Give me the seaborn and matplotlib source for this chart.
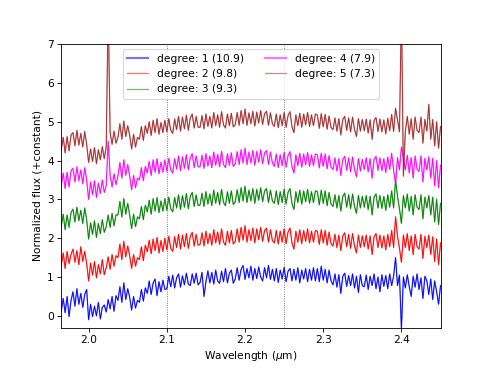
import numpy as np
import pandas as pd
import matplotlib
matplotlib.use("Agg")
import matplotlib.pyplot as plt
import seaborn as sns

# ---- data ----
degrees = [1, 2, 3, 4, 5]
snr = [10.9, 9.8, 9.3, 7.9, 7.3]
colors = ["blue", "red", "green", "magenta", "brown"]
dotted_wavelengths = [2.10, 2.25]

flux_deg1 = [0.12, 0.45, 0.08, 0.50, -0.02, 0.40,
             0.62, 0.25, 0.70, 0.30, 0.58, 0.22, 0.55, 0.68,
             -0.10,
             0.30, -0.02, 0.25, 0.00, 0.35, -0.08, 0.22, 0.28,
             0.10, 0.42, 0.18, 0.50, 0.12, 0.52,
             0.40, 0.75, 0.35, 0.85, 0.42, 0.70,
             0.48, 0.15, 0.50, 0.20, 0.40,
             0.35, 0.68, 0.38, 0.72,
             0.58, 0.90, 0.55, 0.85, 0.95, 0.52, 0.88, 0.62, 0.92, 0.68,
             0.70, 1.02, 0.75, 1.05, 0.72, 0.98, 1.08, 0.74, 1.03, 0.80, 1.10, 0.82, 0.78, 1.08, 0.84, 1.10, 0.80,
             0.86, 1.12, 0.50, 0.88, 1.16, 0.85, 1.12, 0.82, 1.18, 0.90, 0.84, 1.15, 0.88, 1.22, 0.85, 1.10, 1.18, 0.84,
             0.95, 1.24, 0.92, 1.20, 1.30, 0.94, 1.22, 0.98, 1.28, 0.92, 1.22, 0.96, 1.26, 1.00, 0.90, 1.24, 0.98, 1.30, 0.94, 1.20,
             0.90, 1.22, 0.86, 1.18, 0.95, 1.25, 0.88, 1.15, 1.22, 0.90, 1.20, 0.92, 1.24, 0.85, 1.18, 0.95, 1.22, 0.88, 1.20, 0.92, 1.24, 0.90,
             1.22, 0.88, 1.28, 0.92, 1.20, 0.85, 1.18, 0.90,
             0.80, 1.08, 0.74, 1.06, 0.58, 1.02, 1.10, 0.76, 1.04, 0.78, 1.08, 0.72, 1.02, 0.60, 1.06, 0.78,
             0.75, 1.05, 0.68, 1.02, 0.78, 1.08, 0.70, 1.00, 0.62, 1.06, 0.76, 1.04, 0.70, 1.08, 0.78, 1.02,
             1.50,
             0.78, 1.05,
             -0.35,
             1.00, 0.72, 1.06, 0.75, 0.50, 1.02, 0.74, 1.08, 0.68, 0.98, 0.45, 1.02,
             0.90, 0.55, 0.95, 0.42, 0.90, 0.62, 0.30, 0.78]

flux_deg2 = [1.30, 1.62, 1.22, 1.66, 1.35, 1.58,
             1.72, 1.38, 1.68, 1.32, 1.78, 1.40, 1.66, 1.35,
             0.90,
             1.36, 1.05, 1.40, 0.98, 1.32, 1.08, 1.45, 1.06,
             1.24, 1.52, 1.20, 1.58, 1.28, 1.55,
             1.50, 1.85, 1.45, 1.92, 1.52, 1.80,
             1.55, 1.22, 1.58, 1.28, 1.50,
             1.45, 1.78, 1.42, 1.82,
             1.65, 1.95, 1.60, 1.98, 1.68, 2.02, 1.62, 1.94, 1.66, 2.00,
             1.70, 2.05, 1.74, 1.66, 2.04, 1.76, 2.10, 1.72, 2.08, 1.78, 2.12, 1.74, 2.05, 2.15, 1.80, 2.10, 1.82,
             1.84, 2.14, 1.80, 2.18, 1.86, 2.12, 1.82, 2.22, 1.88, 2.16, 1.84, 2.24, 1.90, 1.82, 2.18, 1.88, 2.20, 1.85,
             1.92, 2.24, 1.90, 2.28, 1.95, 2.32, 1.90, 2.22, 1.94, 2.26, 1.88, 2.24, 1.96, 2.28, 1.92, 2.20, 2.26, 1.90, 2.22, 1.94,
             1.88, 2.20, 1.85, 2.18, 1.90, 2.24, 1.86, 2.16, 2.26, 1.88, 1.72, 2.18, 1.90, 2.22, 1.86, 2.20, 1.92, 2.24, 1.88, 2.18, 1.90, 2.20,
             2.18, 1.84, 2.22, 1.88, 2.20, 1.82, 2.16, 1.86,
             1.80, 2.10, 1.76, 2.08, 1.68, 2.06, 2.14, 1.78, 2.10, 1.74, 2.12, 1.80, 1.62, 2.08, 1.76, 2.06,
             1.78, 2.08, 1.72, 2.06, 1.58, 2.04, 2.12, 1.76, 2.08, 1.75, 2.06, 1.70, 2.10, 1.78, 2.20, 1.76,
             2.55,
             2.05, 1.74,
             1.38,
             2.08, 1.76, 2.12, 1.68, 2.06, 1.58, 2.10, 1.78, 1.72, 2.10, 1.48, 2.05,
             1.76, 2.08, 1.58, 2.04, 1.40, 1.98, 1.32, 1.88]

flux_deg3 = [2.30, 2.62, 2.22, 2.60, 2.28, 2.66,
             2.75, 2.42, 2.80, 2.45, 2.72, 2.38, 2.78, 2.48,
             1.98,
             2.40, 2.10, 2.45, 2.02, 2.38, 2.12, 2.48, 2.15,
             2.30, 2.60, 2.28, 2.64, 2.32, 2.60,
             2.60, 2.95, 2.55, 3.02, 2.62, 2.90,
             2.60, 2.25, 2.62, 2.30, 2.55,
             2.50, 2.82, 2.48, 2.85,
             2.68, 2.98, 2.62, 3.02, 2.70, 3.05, 2.66, 2.96, 2.70, 3.02,
             2.72, 3.06, 2.76, 2.68, 3.05, 2.78, 3.12, 2.74, 3.10, 2.80, 3.15, 2.76, 3.08, 3.18, 2.82, 3.12, 2.84,
             2.86, 3.16, 2.82, 3.20, 2.88, 3.14, 2.84, 3.24, 2.90, 3.18, 2.86, 3.26, 2.92, 2.84, 3.20, 2.90, 3.22, 2.87,
             2.94, 3.25, 2.92, 3.30, 2.96, 3.34, 2.92, 3.24, 2.96, 3.28, 2.90, 3.26, 2.98, 3.30, 2.94, 3.22, 3.28, 2.92, 3.24, 2.96,
             2.90, 3.22, 2.87, 3.20, 2.92, 3.26, 2.88, 3.18, 3.28, 2.90, 2.74, 3.20, 2.92, 3.24, 2.88, 3.22, 2.94, 3.26, 2.90, 3.20, 2.92, 3.22,
             3.20, 2.86, 3.24, 2.90, 3.22, 2.84, 3.18, 2.88,
             2.82, 3.12, 2.78, 3.10, 2.70, 3.08, 3.16, 2.80, 3.12, 2.76, 3.14, 2.82, 2.64, 3.10, 2.78, 3.08,
             2.80, 3.10, 2.74, 3.08, 2.60, 3.06, 3.14, 2.78, 3.10, 2.77, 3.08, 2.72, 3.12, 2.80, 3.22, 2.78,
             3.50,
             3.08, 2.76,
             2.38,
             3.10, 2.78, 3.14, 2.70, 3.08, 2.60, 3.12, 2.80, 2.74, 3.12, 2.50, 3.06,
             2.78, 3.10, 2.60, 3.06, 2.42, 3.00, 2.35, 2.90]

flux_deg4 = [3.35, 3.68, 3.28, 3.70, 3.32, 3.74,
             3.80, 3.45, 3.84, 3.48, 3.76, 3.40, 3.82, 3.50,
             3.00,
             3.45, 3.12, 3.48, 3.05, 3.42, 3.15, 3.50, 3.18,
             3.36, 4.50, 3.62, 3.32, 3.66, 3.38,
             3.60, 3.95, 3.55, 4.02, 3.62, 3.90,
             3.60, 3.25, 3.62, 3.30, 3.55,
             3.50, 3.82, 3.48, 3.85,
             3.68, 3.98, 3.62, 4.02, 3.70, 4.05, 3.66, 3.96, 3.70, 4.02,
             3.72, 4.06, 3.76, 3.68, 4.05, 3.78, 4.12, 3.74, 4.10, 3.80, 4.15, 3.76, 4.08, 4.18, 3.82, 4.12, 3.84,
             3.84, 4.14, 3.80, 4.18, 3.86, 4.12, 3.82, 4.22, 3.88, 4.16, 3.84, 4.24, 3.90, 3.82, 4.18, 3.88, 4.20, 3.85,
             3.92, 4.23, 3.90, 4.28, 3.94, 4.32, 3.90, 4.22, 3.94, 4.26, 3.88, 4.24, 3.96, 4.28, 3.92, 4.20, 4.26, 3.90, 4.22, 3.94,
             3.85, 4.17, 3.82, 4.15, 3.87, 4.21, 3.83, 4.13, 4.23, 3.85, 3.68, 4.15, 3.87, 4.19, 3.83, 4.17, 3.89, 4.21, 3.85, 4.15, 3.87, 4.17,
             4.15, 3.81, 4.19, 3.85, 4.17, 3.79, 4.13, 3.83,
             3.77, 4.07, 3.73, 4.05, 3.62, 4.03, 4.11, 3.75, 4.07, 3.71, 4.09, 3.77, 3.58, 4.05, 3.73, 4.03,
             3.77, 4.07, 3.71, 4.05, 3.55, 4.03, 4.11, 3.75, 4.07, 3.74, 4.05, 3.69, 4.09, 3.77, 4.19, 3.75,
             3.40,
             4.08, 3.76,
             4.35,
             4.10, 3.76, 4.14, 3.68, 4.08, 3.55, 4.12, 3.78, 3.72, 4.12, 3.45, 4.06,
             3.76, 4.10, 3.55, 4.06, 3.35, 4.00, 3.30, 3.88]

flux_deg5 = [4.28, 4.60, 4.20, 4.62, 4.25, 4.66,
             4.72, 4.38, 4.78, 4.40, 4.70, 4.35, 4.75, 4.42,
             3.95,
             4.30, 3.98, 4.34, 3.92, 4.28, 4.02, 4.36, 4.05,
             4.35, 8.00, 4.72, 4.42, 4.76, 4.45,
             4.60, 4.95, 4.55, 5.02, 4.62, 4.90,
             4.65, 4.30, 4.68, 4.35, 4.60,
             4.55, 4.88, 4.52, 4.90,
             4.70, 5.00, 4.65, 5.04, 4.72, 5.08, 4.68, 4.98, 4.72, 5.04,
             4.74, 5.08, 4.78, 4.70, 5.07, 4.80, 5.14, 4.76, 5.12, 4.82, 5.17, 4.78, 5.10, 5.20, 4.84, 5.14, 4.86,
             4.86, 5.16, 4.82, 5.20, 4.88, 5.14, 4.84, 5.24, 4.90, 5.18, 4.86, 5.26, 4.92, 4.84, 5.20, 4.90, 5.22, 4.87,
             4.93, 5.24, 4.91, 5.29, 4.95, 5.33, 4.91, 5.23, 4.95, 5.27, 4.89, 5.25, 4.97, 5.29, 4.93, 5.21, 5.27, 4.91, 5.23, 4.95,
             4.88, 5.20, 4.85, 5.18, 4.90, 5.24, 4.86, 5.16, 5.26, 4.88, 4.72, 5.18, 4.90, 5.22, 4.86, 5.20, 4.92, 5.24, 4.88, 5.18, 4.90, 5.20,
             5.17, 4.83, 5.21, 4.87, 5.19, 4.81, 5.15, 4.85,
             4.80, 5.10, 4.76, 5.08, 4.66, 5.06, 5.14, 4.78, 5.10, 4.74, 5.12, 4.80, 4.62, 5.08, 4.76, 5.06,
             4.77, 5.07, 4.71, 5.05, 4.55, 5.03, 5.11, 4.75, 5.07, 4.74, 5.05, 4.69, 5.09, 4.77, 5.19, 4.75,
             5.35,
             5.05, 4.74,
             8.00,
             3.60, 4.76, 5.14, 4.68, 5.08, 4.55, 5.12, 4.78, 4.72, 5.12, 4.45, 5.06,
             4.76, 5.45, 4.55, 5.06, 4.38, 5.00, 4.32, 4.88]

fluxes = [flux_deg1, flux_deg2, flux_deg3, flux_deg4, flux_deg5]
n = len(flux_deg1)
assert all(len(f) == n for f in fluxes), [len(f) for f in fluxes]
# uniform wavelength sampling of the spectra (micron)
wavelength = np.linspace(1.965, 2.45, n)

# ---- plot ----
plt.rcParams["font.family"] = ["DejaVu Sans"]
plt.rcParams["font.size"] = 10

fig, ax = plt.subplots(figsize=(6.4, 368 / 76.5625), dpi=76.5625)

legend_labels = []
for deg, s, col, flux in zip(degrees, snr, colors, fluxes):
    df = pd.DataFrame({"wavelength": wavelength, "flux": flux})
    sns.lineplot(data=df, x="wavelength", y="flux", color=col, lw=1.3,
                 alpha=0.45, ax=ax, sort=False, estimator=None)
    sns.lineplot(data=df, x="wavelength", y="flux", color=col, lw=0.8,
                 ax=ax, sort=False, estimator=None)
    legend_labels.append(f"degree: {deg} ({s})")

for w in dotted_wavelengths:
    ax.axvline(w, color="0.35", ls=":", lw=0.8, zorder=0)

ax.set_xlim(1.965, 2.4506)
ax.set_ylim(-0.3, 7)
ax.set_yticks(range(0, 8))
ax.set_xlabel(r"Wavelength ($\mu$m)")
ax.set_ylabel("Normalized flux (+constant)")

legend_handles = [
    Line2D := matplotlib.lines.Line2D([], [], color=col, alpha=0.55,
                                      lw=2.0 if deg in (1, 4) else 1.2)
    for deg, col in zip(degrees, colors)
]
ax.legend(legend_handles, legend_labels, ncol=2, loc="upper center")

fig.savefig("out.png", dpi=76.5625)
